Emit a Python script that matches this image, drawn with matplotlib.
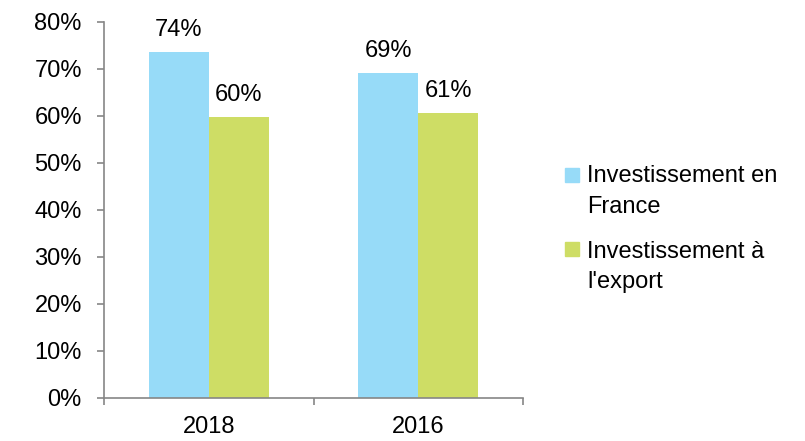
import matplotlib
matplotlib.use("Agg")
import matplotlib.pyplot as plt
from matplotlib.patches import Rectangle
import numpy as np

plt.rcParams['font.family'] = ['Liberation Sans', 'DejaVu Sans']

years = ['2018', '2016']
series = ['Investissement en\nFrance', "Investissement à\nl'export"]
france = [73.6, 69.0]
export = [59.8, 60.6]
colors = ['#97DBF8', '#CEDD65']
axis_col = '#868686'
fs = 17

W, H = 805, 441
fig = plt.figure(figsize=(W / 100, H / 100), dpi=100)
ax = fig.add_axes([104 / W, 1 - 398 / H, (523 - 104) / W, (398 - 21.7) / H])

x = np.arange(len(years))
bw = 0.286
for vals, off, col in [(france, -bw / 2, colors[0]), (export, bw / 2, colors[1])]:
    bars = ax.bar(x + off, vals, width=bw, color=col, edgecolor='none')
    for b, v in zip(bars, vals):
        ax.annotate(f"{round(v)}%", (b.get_x() + b.get_width() / 2, v),
                    xytext=(0, 11.5), textcoords='offset points',
                    ha='center', va='baseline', fontsize=fs)

ax.set_xlim(-0.5, 1.5)
ax.set_ylim(0, 80)
ax.set_yticks(range(0, 81, 10))
ax.set_yticklabels([f"{t}%" for t in range(0, 81, 10)])
ax.set_xticks(x)
ax.set_xticklabels(years)
ax.set_xticks([-0.5, 0.5, 1.5], minor=True)

for s in ['top', 'right']:
    ax.spines[s].set_visible(False)
for s in ['left', 'bottom']:
    ax.spines[s].set_color(axis_col)
    ax.spines[s].set_linewidth(1.2)

ax.tick_params(axis='y', length=5, width=1.2, color=axis_col, pad=11, labelsize=fs)
ax.tick_params(axis='x', which='major', length=0, pad=13, labelsize=fs)
ax.tick_params(axis='x', which='minor', length=5, width=1.2, color=axis_col)

# legend drawn by hand so the square sits next to the first line
leg_top = [183, 257]   # baseline of first line
leg_bot = [213, 288]   # baseline of second line
for lab, col, y1, y2 in zip(series, colors, leg_top, leg_bot):
    fig.patches.append(Rectangle((565 / W, 1 - (y1 - 1) / H), 14 / W, 14 / H,
                                 transform=fig.transFigure, color=col))
    fig.text(587 / W, 1 - y2 / H, lab, fontsize=fs, va='baseline', ha='left',
             linespacing=1.5)

fig.savefig('out.png', dpi=100)
